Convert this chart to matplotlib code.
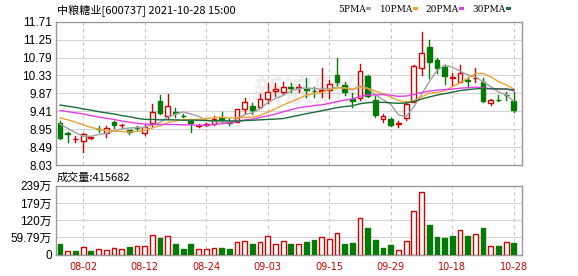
import matplotlib
matplotlib.use("Agg")
import matplotlib.pyplot as plt
import numpy as np
from matplotlib.patches import Rectangle

# ---------------- data ----------------
title = "中粮糖业[600737] 2021-10-28 15:00"
vol_title = "成交量:415682"
date_ticks = {3: "08-02", 11: "08-12", 19: "08-24", 27: "09-03",
              35: "09-15", 43: "09-29", 51: "10-18", 59: "10-28"}

opens = [9.12, 8.85, 8.69, 8.65, 8.72, 8.96, 8.86, 9.13, 9.06, 8.92,
         9.00, 8.84, 9.10, 9.67, 9.29, 9.39, 9.30, 9.16, 9.03, 9.06,
         9.08, 9.24, 9.13, 9.14, 9.46, 9.55, 9.53, 9.72, 9.94, 9.91,
         10.04, 10.01, 9.97, 9.94, 9.92, 9.96, 10.34, 10.08, 9.72, 9.74,
         10.32, 9.70, 9.21, 9.20, 9.08, 9.23, 9.66, 10.53, 11.07, 10.73,
         10.55, 10.27, 10.17, 10.20, 10.26, 10.15, 9.61, 9.71, 9.84, 9.67]
closes = [8.73, 8.83, 8.71, 8.82, 8.75, 8.95, 8.97, 9.05, 9.06, 8.87,
          8.99, 9.01, 9.38, 9.37, 9.55, 9.37, 9.29, 9.12, 9.06, 9.08,
          9.21, 9.18, 9.12, 9.46, 9.65, 9.44, 9.72, 9.91, 9.97, 10.04,
          10.02, 10.03, 9.96, 9.93, 9.95, 10.10, 10.17, 9.91, 9.67, 10.45,
          9.81, 9.31, 9.30, 9.06, 9.10, 9.60, 10.57, 10.90, 10.67, 10.53,
          10.32, 10.29, 10.40, 10.19, 10.27, 9.67, 9.70, 9.69, 9.83, 9.44]
highs = [9.16, 8.87, 8.77, 8.84, 8.76, 9.03, 9.03, 9.16, 9.09, 8.94,
         9.03, 9.05, 9.60, 9.83, 9.85, 9.49, 9.33, 9.18, 9.09, 9.11,
         9.29, 9.38, 9.23, 9.48, 9.75, 9.61, 9.85, 10.14, 10.13, 10.17,
         10.13, 10.10, 10.26, 10.04, 10.51, 10.21, 10.79, 10.17, 9.87, 10.62,
         10.34, 9.80, 9.35, 9.23, 9.17, 9.67, 10.60, 11.44, 11.24, 10.77,
         10.60, 10.38, 10.60, 10.30, 10.53, 10.26, 9.73, 9.82, 9.91, 9.91]
lows = [8.70, 8.61, 8.62, 8.36, 8.70, 8.89, 8.76, 8.99, 9.01, 8.83,
        8.93, 8.80, 9.01, 9.34, 9.20, 9.27, 9.25, 8.88, 9.00, 9.03,
        9.05, 9.14, 9.06, 9.13, 9.36, 9.34, 9.49, 9.61, 9.80, 9.85,
        9.91, 9.91, 9.78, 9.78, 9.78, 9.74, 10.08, 9.83, 9.53, 9.70,
        9.78, 9.27, 9.14, 9.02, 9.01, 9.19, 9.64, 10.34, 10.26, 10.38,
        10.10, 10.08, 10.15, 10.04, 10.17, 9.66, 9.57, 9.67, 9.70, 9.38]
volumes = [37, 13, 13, 25, 13, 18.5, 16, 22, 20, 27,
           29, 30, 67, 58, 64, 37, 20, 37, 20, 20,
           22, 23, 20, 43, 46, 37, 43, 64, 37, 46,
           37, 37, 44, 51, 60, 54, 74, 37, 40, 126,
           92, 51, 23, 32, 18, 47, 151, 219, 103, 61,
           58, 65, 84, 65, 72, 92, 29, 30, 44, 41.57]  # 万
# volume bar colour as shown: "r" = red hollow, "g" = green filled
vol_dir = list("grgrgrrrrgrrrgrgggrrrggrrgrrrrgrggrrrggrggggrrrrggggrgrgrgrg")

# moving-average values at the left edge (window reaches before the shown days)
ma5_head = [9.08, 8.97, 8.86, 8.77]
ma10_head = [9.24, 9.19, 9.13, 9.06, 9.00, 8.95, 8.91, 8.90, 8.89]
ma20_head = [9.43, 9.40, 9.37, 9.34, 9.30, 9.26, 9.23, 9.20, 9.16, 9.13,
             9.10, 9.08, 9.07, 9.07, 9.07, 9.07, 9.06, 9.06, 9.05]
ma30_head = [9.57, 9.54, 9.51, 9.47, 9.44, 9.40, 9.37, 9.34, 9.30, 9.27,
             9.23, 9.20, 9.20, 9.19, 9.19, 9.19, 9.18, 9.18, 9.18, 9.17,
             9.17, 9.17, 9.16, 9.16, 9.17, 9.18, 9.19, 9.20, 9.21]

price_ticks = [8.03, 8.49, 8.95, 9.41, 9.87, 10.33, 10.79, 11.25, 11.71]
vol_ticks = [0, 59.79, 119.58, 179.37, 239.16]
vol_tick_labels = ["0", "59.79万", "120万", "179万", "239万"]
ma_names = ["5PMA", "10PMA", "20PMA", "30PMA"]

# ---------------- style ----------------
RED = "#d10000"
GREEN = "#067a06"
MA_COLORS = ["#a0a0a0", "#e8a533", "#e23fe0", "#1c6b3a"]
GRID = "#d4d4d4"
FRAME = "#9a9a9a"

W, H = 578, 276
fig = plt.figure(figsize=(W / 100, H / 100), dpi=100)
fig.patch.set_facecolor("white")

L, R = 55.5, 522.3
ax1 = fig.add_axes([L / W, 1 - 165 / H, (R - L) / W, (165 - 21.7) / H])
ax2 = fig.add_axes([L / W, 1 - 254.7 / H, (R - L) / W, (254.7 - 185.7) / H])

n = len(closes)
x = np.arange(n)
o = np.array(opens); c = np.array(closes)
hi = np.array(highs); lo = np.array(lows)

num_font = ["Liberation Sans", "Noto Sans CJK SC"]

for ax in (ax1, ax2):
    ax.set_xlim(-0.6, n + 0.1)
    for s in ax.spines.values():
        s.set_color(FRAME)
        s.set_linewidth(1.0)
    ax.tick_params(length=0, pad=2.5, labelsize=8.5)
    ax.set_xticks(list(date_ticks.keys()))
    for xt in date_ticks:
        ax.axvline(xt, color="#c4c4c4", lw=0.8, ls=(0, (3, 3)), zorder=0)

# watermark
ax1.text(0.555, 0.5, "新浪财经", transform=ax1.transAxes, ha="center", va="center",
         fontsize=22, color="#ededed", family=["Noto Sans CJK SC"], fontweight="bold",
         style="italic", zorder=0)

# ---- price panel ----
ax1.set_ylim(price_ticks[0], price_ticks[-1])
ax1.set_yticks(price_ticks)
ax1.set_yticklabels([f"{v:.2f}" for v in price_ticks], family=num_font)
for t in price_ticks[1:-1]:
    ax1.axhline(t, color=GRID, lw=0.8, zorder=0)
ax1.set_xticklabels([])

bw = 0.62
for i in range(n):
    up = c[i] >= o[i]
    col = RED if up else GREEN
    top, bot = max(o[i], c[i]), min(o[i], c[i])
    ax1.plot([i, i], [top, hi[i]], color=col, lw=1.0, zorder=3)
    ax1.plot([i, i], [lo[i], bot], color=col, lw=1.0, zorder=3)
    h = max(top - bot, 0.004)
    face = "white" if up else col
    ax1.add_patch(Rectangle((i - bw / 2, bot), bw, h, facecolor=face,
                            edgecolor=col, lw=1.0, zorder=4))


def moving_average(win, head):
    vals = list(head)
    for i in range(win - 1, n):
        vals.append(c[i - win + 1:i + 1].mean())
    return np.array(vals)


mas = [moving_average(5, ma5_head), moving_average(10, ma10_head),
       moving_average(20, ma20_head), moving_average(30, ma30_head)]
for m, col in zip(mas, MA_COLORS):
    ax1.plot(x, m, color=col, lw=1.0, zorder=5)

# ---- volume panel ----
ax2.set_ylim(0, vol_ticks[-1])
ax2.set_yticks(vol_ticks)
ax2.set_yticklabels(vol_tick_labels, family=num_font)
for t in vol_ticks[1:-1]:
    ax2.axhline(t, color=GRID, lw=0.8, zorder=0)
ax2.set_xticklabels(list(date_ticks.values()), color=RED, fontsize=7,
                    family=["DejaVu Sans"])
ax2.tick_params(axis="x", pad=5)

vols = np.array(volumes)
for i in range(n):
    if vol_dir[i] == "r":
        ax2.add_patch(Rectangle((i - bw / 2, 0), bw, vols[i], facecolor="white",
                                edgecolor=RED, lw=1.0, zorder=3))
    else:
        ax2.add_patch(Rectangle((i - bw / 2, 0), bw, vols[i], facecolor=GREEN,
                                edgecolor=GREEN, lw=1.0, zorder=3))

# ---- texts ----
cjk = ["Noto Sans CJK SC", "DejaVu Sans"]
fig.text(57 / W, 1 - 14 / H, title, fontsize=8, family=cjk, va="baseline", ha="left")
fig.text(57 / W, 1 - 181 / H, vol_title, fontsize=8, family=cjk, va="baseline", ha="left")

leg_x = [338, 380, 425, 472]
sw_x = [366, 413, 459, 506]
for name, lx, sx, col in zip(ma_names, leg_x, sw_x, MA_COLORS):
    fig.text(lx / W, 1 - 12 / H, name, fontsize=6.5, family=["DejaVu Serif"],
             va="baseline", ha="left")
    fig.patches.append(Rectangle((sx / W, 1 - 10 / H), 5 / W, 3 / H,
                                 transform=fig.transFigure, facecolor=col,
                                 edgecolor="none"))

fig.savefig("out.png", dpi=100, facecolor="white")
